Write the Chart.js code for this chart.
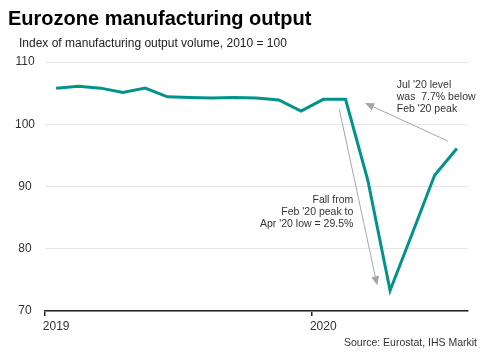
<!DOCTYPE html>
<html>
<head>
<meta charset="utf-8">
<script src="https://cdn.jsdelivr.net/npm/chart.js@4/dist/chart.umd.min.js"></script>
<style>
  html, body { margin: 0; padding: 0; background: #fff; }
  #wrap { position: relative; width: 486px; height: 357px; overflow: hidden; font-family: "Liberation Sans", Arial, sans-serif; }
  #c { position: absolute; left: 0; top: 0; }
  .title { position: absolute; left: 8px; top: 7px; font-size: 20px; line-height: 23px; font-weight: bold; color: #000; white-space: nowrap; }
  .subtitle { position: absolute; left: 19px; top: 36px; font-size: 12px; color: #222; white-space: nowrap; }
  .source { position: absolute; right: 9px; top: 336px; font-size: 10.5px; color: #333; white-space: nowrap; }
</style>
</head>
<body>
<div id="wrap">
  <canvas id="c" width="486" height="357"></canvas>
  <div class="title">Eurozone manufacturing output</div>
  <div class="subtitle">Index of manufacturing output volume, 2010 = 100</div>
  <div class="source">Source: Eurostat, IHS Markit</div>
</div>
<script>
// ---- Data ----
const months = ['Jan 2019','Feb 2019','Mar 2019','Apr 2019','May 2019','Jun 2019','Jul 2019','Aug 2019','Sep 2019','Oct 2019','Nov 2019','Dec 2019','Jan 2020','Feb 2020','Mar 2020','Apr 2020','May 2020','Jun 2020','Jul 2020'];
const outputIndex = [105.8, 106.1, 105.8, 105.1, 105.8, 104.4, 104.3, 104.2, 104.3, 104.2, 103.9, 102.1, 104.0, 104.0, 91.0, 73.3, 82.5, 91.8, 96.1];
const xTickLabels = ['2019','','','','','','','','','','','','2020','','','','','',''];
const yTickValues = [70, 80, 90, 100, 110];
const annotationPeakText = ["Jul '20 level", "was  7.7% below", "Feb '20 peak"];
const annotationFallText = ["Fall from", "Feb '20 peak to", "Apr '20 low = 29.5%"];

const lineColor = '#00938a';
const arrowColor = '#a6a6a6';

function arrow(ctx, x1, y1, x2, y2) {
  const ang = Math.atan2(y2 - y1, x2 - x1);
  const head = 9, half = 4;
  const bx = x2 - head * Math.cos(ang), by = y2 - head * Math.sin(ang);
  ctx.save();
  ctx.strokeStyle = arrowColor;
  ctx.fillStyle = arrowColor;
  ctx.lineWidth = 1;
  ctx.beginPath(); ctx.moveTo(x1, y1); ctx.lineTo(bx, by); ctx.stroke();
  ctx.beginPath();
  ctx.moveTo(x2, y2);
  ctx.lineTo(bx + half * Math.sin(ang), by - half * Math.cos(ang));
  ctx.lineTo(bx - half * Math.sin(ang), by + half * Math.cos(ang));
  ctx.closePath(); ctx.fill();
  ctx.restore();
}

const annotations = {
  id: 'annotations',
  afterDatasetsDraw(chart) {
    const ctx = chart.ctx;
    const xs = chart.scales.x, ys = chart.scales.y;
    const px = v => xs.getPixelForValue(v);
    const py = v => ys.getPixelForValue(v);
    // arrows anchored in data space (index, value)
    arrow(ctx, px(17.6), py(97.3), px(13.88), py(103.4));
    arrow(ctx, px(12.72), py(102.4), px(14.42), py(74.15));
    ctx.save();
    ctx.font = '10.5px "Liberation Sans", Arial, sans-serif';
    ctx.fillStyle = '#333';
    ctx.textBaseline = 'middle';
    ctx.textAlign = 'left';
    const ax = px(15.3), ay = py(106.3);
    annotationPeakText.forEach((t, i) => ctx.fillText(t, ax, ay + i * 12));
    ctx.textAlign = 'right';
    const bx = px(13.35), by = py(87.8);
    annotationFallText.forEach((t, i) => ctx.fillText(t, bx, by + i * 11.8));
    ctx.restore();
  }
};

new Chart(document.getElementById('c'), {
  type: 'line',
  data: {
    labels: months,
    datasets: [{
      data: outputIndex,
      borderColor: lineColor,
      borderWidth: 3,
      pointRadius: 0,
      tension: 0,
      fill: false,
      borderJoinStyle: 'miter'
    }]
  },
  options: {
    responsive: false,
    animation: false,
    devicePixelRatio: 1,
    layout: { padding: { top: 62, right: 18, bottom: 22, left: 0 } },
    plugins: { legend: { display: false }, tooltip: { enabled: false }, title: { display: false } },
    scales: {
      x: {
        type: 'category',
        offset: true,
        afterFit(s) { s.height = 24; },
        grid: {
          offset: true,
          drawOnChartArea: false,
          drawTicks: true,
          tickLength: 5,
          lineWidth: 1.5,
          color: ctx => (xTickLabels[ctx.index] ? '#222' : 'rgba(0,0,0,0)')
        },
        border: { display: true, color: '#222', width: 1.5 },
        ticks: {
          autoSkip: false,
          maxRotation: 0,
          padding: 3,
          color: '#333',
          font: { family: '"Liberation Sans", Arial, sans-serif', size: 12 },
          callback: (v, i) => xTickLabels[i]
        }
      },
      y: {
        min: 70,
        max: 110,
        afterFit(s) { s.width = 45; },
        afterBuildTicks(s) { s.ticks = yTickValues.map(v => ({ value: v })); },
        grid: { color: '#e6e6e6', lineWidth: 1, drawTicks: false },
        border: { display: false },
        ticks: {
          crossAlign: 'center',
          padding: 10,
          color: '#333',
          font: { family: '"Liberation Sans", Arial, sans-serif', size: 12 }
        }
      }
    }
  },
  plugins: [annotations]
});
</script>
</body>
</html>
